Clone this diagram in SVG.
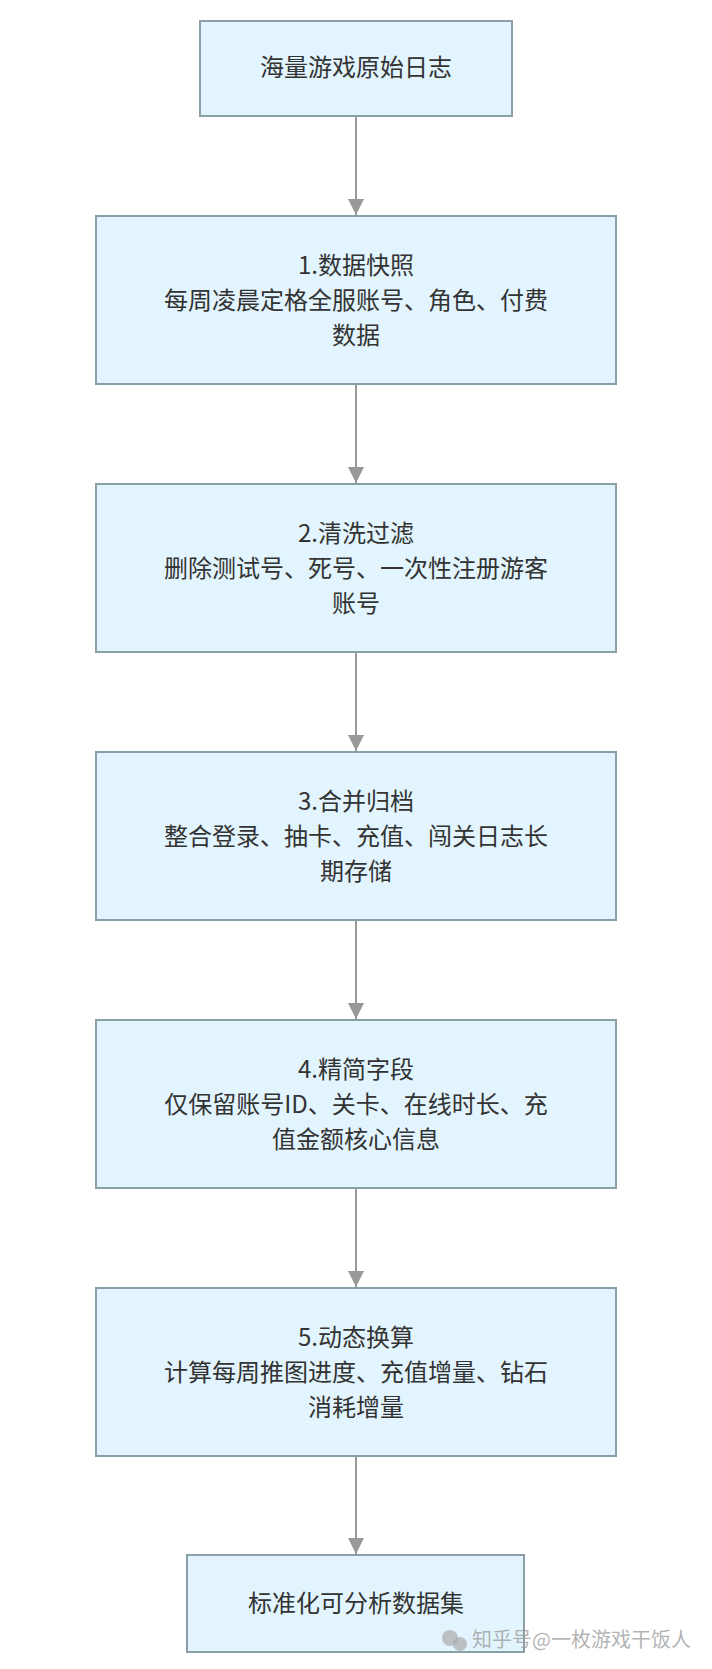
<svg xmlns="http://www.w3.org/2000/svg" width="712" height="1669" viewBox="0 0 712 1669">
<style>
.box{fill:#e2f4fd;stroke:#8c9ea8;stroke-width:2}
.t{font-family:"Noto Sans CJK SC","Noto Sans",sans-serif;font-size:24px;fill:#333;text-anchor:middle}
.edge{stroke:#999;stroke-width:2;fill:none}
.wm{font-family:"Noto Sans CJK SC",sans-serif;font-size:20px;fill:#9a9a9a;fill-opacity:0.75}
</style>
<defs>
<marker id="arr" viewBox="0 0 16 16" refX="16" refY="8" markerWidth="16" markerHeight="16" markerUnits="userSpaceOnUse" orient="auto">
<path d="M0,0 L16,8 L0,16 Z" fill="#999"/>
</marker>
</defs>
<rect width="712" height="1669" fill="#fff"/>
<g id="connectors">
<line class="edge" x1="356" y1="116" x2="356" y2="215" marker-end="url(#arr)"/>
<line class="edge" x1="356" y1="384" x2="356" y2="483" marker-end="url(#arr)"/>
<line class="edge" x1="356" y1="652" x2="356" y2="751" marker-end="url(#arr)"/>
<line class="edge" x1="356" y1="920" x2="356" y2="1019" marker-end="url(#arr)"/>
<line class="edge" x1="356" y1="1188" x2="356" y2="1287" marker-end="url(#arr)"/>
<line class="edge" x1="356" y1="1456" x2="356" y2="1554" marker-end="url(#arr)"/>
</g>
<g id="start">
<rect class="box" x="200" y="21" width="312" height="95"/>
<text class="t" x="356" y="76">海量游戏原始日志</text>
</g>
<g id="step1">
<rect class="box" x="96" y="216" width="520" height="168"/>
<text class="t" x="356" y="274">1.数据快照</text>
<text class="t" x="356" y="309">每周凌晨定格全服账号、角色、付费</text>
<text class="t" x="356" y="344">数据</text>
</g>
<g id="step2">
<rect class="box" x="96" y="484" width="520" height="168"/>
<text class="t" x="356" y="542">2.清洗过滤</text>
<text class="t" x="356" y="577">删除测试号、死号、一次性注册游客</text>
<text class="t" x="356" y="612">账号</text>
</g>
<g id="step3">
<rect class="box" x="96" y="752" width="520" height="168"/>
<text class="t" x="356" y="810">3.合并归档</text>
<text class="t" x="356" y="845">整合登录、抽卡、充值、闯关日志长</text>
<text class="t" x="356" y="880">期存储</text>
</g>
<g id="step4">
<rect class="box" x="96" y="1020" width="520" height="168"/>
<text class="t" x="356" y="1078">4.精简字段</text>
<text class="t" x="356" y="1113">仅保留账号ID、关卡、在线时长、充</text>
<text class="t" x="356" y="1148">值金额核心信息</text>
</g>
<g id="step5">
<rect class="box" x="96" y="1288" width="520" height="168"/>
<text class="t" x="356" y="1346">5.动态换算</text>
<text class="t" x="356" y="1381">计算每周推图进度、充值增量、钻石</text>
<text class="t" x="356" y="1416">消耗增量</text>
</g>
<g id="end">
<rect class="box" x="187" y="1555" width="337" height="97"/>
<text class="t" x="356" y="1612">标准化可分析数据集</text>
</g>
<g id="watermark">
<circle cx="450" cy="1638" r="8" fill="#aaa" fill-opacity="0.7"/>
<circle cx="460" cy="1644" r="7" fill="#aaa" fill-opacity="0.7"/>
<text class="wm" x="472" y="1647">知乎号@一枚游戏干饭人</text>
</g>
</svg>
